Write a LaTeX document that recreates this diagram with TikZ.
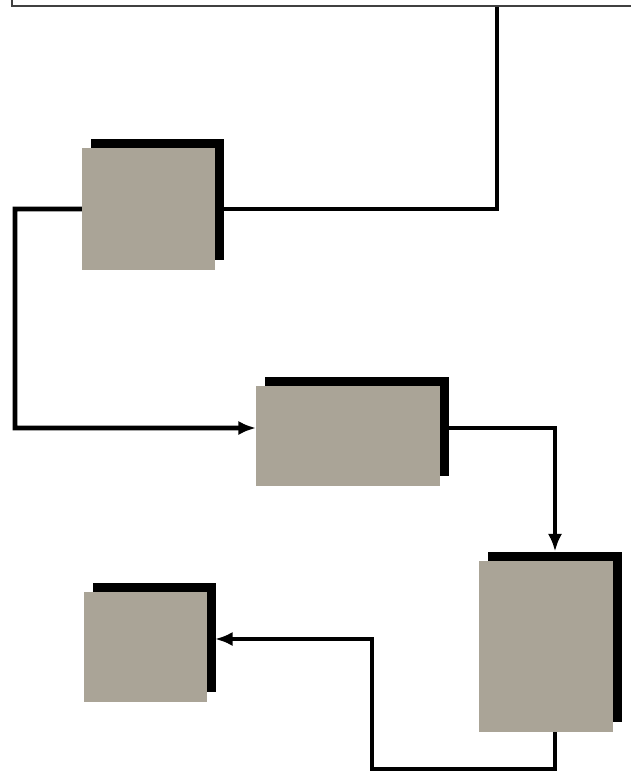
\documentclass[tikz,border=0pt]{standalone}
\usetikzlibrary{arrows.meta, shadows, backgrounds}

\definecolor{slate}{RGB}{170,164,151}

\begin{document}
\begin{tikzpicture}[
    x=0.02cm, y=-0.02cm,
    block/.style={rectangle, fill=slate, inner sep=0pt, outer sep=0pt,
        general shadow={fill=black, shadow xshift=0.18cm, shadow yshift=0.19cm}},
    frame/.style={rectangle, draw=black!75, line width=1.2pt, inner sep=0pt, outer sep=0pt},
    wire/.style={line width=2.6pt, draw=black, line join=miter},
    feed/.style={wire, -{Latex[length=10pt, width=8pt]}}
]
\path[use as bounding box, clip] (0,0) rectangle (631,773);

% source box, only its lower edge shows
\node[frame, anchor=south west, minimum width=19.4cm, minimum height=4cm] (source) at (12,6) {};

\node[block, minimum width=2.66cm, minimum height=2.44cm] (blk1) at (148.5,209) {};
\node[block, minimum width=3.68cm, minimum height=2.0cm] (blk2) at (348,436) {};
\node[block, minimum width=2.68cm, minimum height=3.42cm] (blk3) at (546,646.5) {};
\node[block, minimum width=2.46cm, minimum height=2.2cm] (blk4) at (145.5,647) {};

\coordinate (bendL) at (15,428);
\coordinate (bendB) at (372,769);

\begin{scope}[on background layer]
\draw[wire] (blk1.east) -| (source.south);
\draw[feed] (blk1.west) -| (bendL) -- ([yshift=0.16cm]blk2.west);
\draw[feed] ([yshift=0.16cm]blk2.east) -| ([xshift=0.18cm, yshift=0.19cm]blk3.north);
\draw[feed] ([xshift=0.18cm]blk3.south) |- (bendB) |- ([xshift=0.16cm, yshift=0.16cm]blk4.east);
\end{scope}

\end{tikzpicture}
\end{document}
